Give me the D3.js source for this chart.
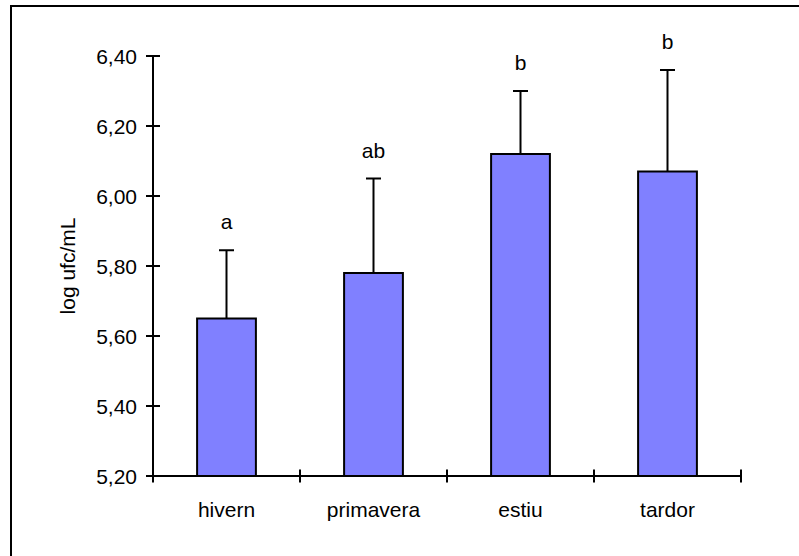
<!DOCTYPE html>
<html>
<head>
<meta charset="utf-8">
<script src="https://cdn.jsdelivr.net/npm/d3@7"></script>
<style>
  html, body { margin: 0; padding: 0; background: #fff; }
  svg { display: block; }
  text { font-family: "Liberation Sans", Arial, sans-serif; fill: #000; }
</style>
</head>
<body>
<svg id="chart" width="799" height="556"></svg>
<script>
// Seasonal counts (log ufc/mL): mean, standard deviation and group letters
const seasons = ["hivern", "primavera", "estiu", "tardor"];
const means = [5.65, 5.78, 6.12, 6.07];
const sds = [0.195, 0.27, 0.18, 0.29];
const groups = ["a", "ab", "b", "b"];
const yTicks = [5.2, 5.4, 5.6, 5.8, 6.0, 6.2, 6.4];
const yLabel = "log ufc/mL";

const svg = d3.select("#chart");
const fontSize = 21;

const plot = { left: 153, right: 741, top: 56, bottom: 476 };

const x = d3.scaleBand()
  .domain(seasons)
  .range([plot.left, plot.right])
  .paddingInner(0.6)
  .paddingOuter(0.3);

const y = d3.scaleLinear()
  .domain([5.2, 6.4])
  .range([plot.bottom, plot.top]);

const fmt = v => d3.format(".2f")(v).replace(".", ",");

// outer frame
svg.append("rect")
  .attr("x", 11).attr("y", 6)
  .attr("width", 820).attr("height", 600)
  .attr("fill", "none")
  .attr("stroke", "#000")
  .attr("stroke-width", 2);

// bars
svg.selectAll("rect.bar")
  .data(seasons)
  .join("rect")
  .attr("class", "bar")
  .attr("x", d => x(d))
  .attr("y", (d, i) => y(means[i]))
  .attr("width", x.bandwidth())
  .attr("height", (d, i) => y(5.2) - y(means[i]))
  .attr("fill", "#8080FF")
  .attr("stroke", "#000")
  .attr("stroke-width", 2);

// upward error bars
const cap = 7.5;
const err = svg.append("g").attr("stroke", "#000").attr("stroke-width", 2);
seasons.forEach((s, i) => {
  const cx = x(s) + x.bandwidth() / 2;
  err.append("line")
    .attr("x1", cx).attr("x2", cx)
    .attr("y1", y(means[i])).attr("y2", y(means[i] + sds[i]));
  err.append("line")
    .attr("x1", cx - cap).attr("x2", cx + cap)
    .attr("y1", y(means[i] + sds[i])).attr("y2", y(means[i] + sds[i]));
});

// group letters above error bars
svg.selectAll("text.grp")
  .data(seasons)
  .join("text")
  .attr("class", "grp")
  .attr("x", d => x(d) + x.bandwidth() / 2)
  .attr("y", (d, i) => y(means[i] + sds[i]) - 21)
  .attr("text-anchor", "middle")
  .attr("font-size", fontSize)
  .text((d, i) => groups[i]);

// y axis
const yAxis = svg.append("g");
yAxis.append("line")
  .attr("x1", plot.left).attr("x2", plot.left)
  .attr("y1", y(6.4)).attr("y2", y(5.2))
  .attr("stroke", "#000").attr("stroke-width", 2);
yTicks.forEach(t => {
  yAxis.append("line")
    .attr("x1", plot.left - 7).attr("x2", plot.left + 7)
    .attr("y1", y(t)).attr("y2", y(t))
    .attr("stroke", "#000").attr("stroke-width", 2);
  yAxis.append("text")
    .attr("x", plot.left - 16)
    .attr("y", y(t))
    .attr("dy", "0.36em")
    .attr("text-anchor", "end")
    .attr("font-size", fontSize)
    .text(fmt(t));
});

// x axis
const xAxis = svg.append("g");
xAxis.append("line")
  .attr("x1", plot.left).attr("x2", plot.right)
  .attr("y1", y(5.2)).attr("y2", y(5.2))
  .attr("stroke", "#000").attr("stroke-width", 2);
d3.range(seasons.length + 1).forEach(k => {
  const tx = plot.left + k * x.step();
  xAxis.append("line")
    .attr("x1", tx).attr("x2", tx)
    .attr("y1", y(5.2) - 6.5).attr("y2", y(5.2) + 6.5)
    .attr("stroke", "#000").attr("stroke-width", 2);
});
seasons.forEach(s => {
  xAxis.append("text")
    .attr("x", x(s) + x.bandwidth() / 2)
    .attr("y", 517)
    .attr("text-anchor", "middle")
    .attr("font-size", fontSize)
    .text(s);
});

// y axis title
svg.append("text")
  .attr("transform", "translate(75,266) rotate(-90)")
  .attr("text-anchor", "middle")
  .attr("font-size", fontSize)
  .text(yLabel);
</script>
</body>
</html>
